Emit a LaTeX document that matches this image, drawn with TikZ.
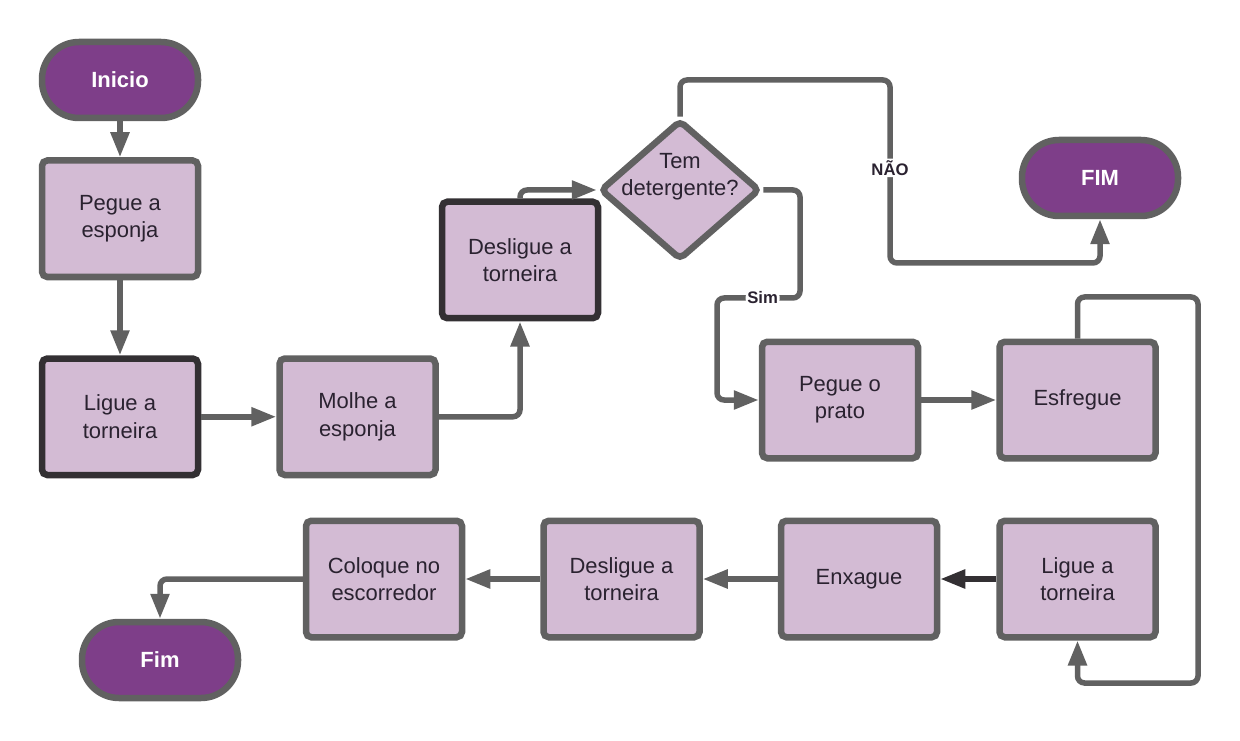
\documentclass[tikz,border=0pt]{standalone}
\usepackage{fontspec}
\setmainfont{Liberation Sans}
\usetikzlibrary{arrows.meta,positioning,shapes.geometric}
\definecolor{flTerm}{HTML}{7E3E89}
\definecolor{flBox}{HTML}{D3BBD4}
\definecolor{flEdge}{HTML}{616161}
\definecolor{flDark}{HTML}{333033}
\definecolor{flInk}{HTML}{2A2230}
\tikzset{
  flterm/.style={rectangle,rounded corners=0.74cm,draw=flEdge,line width=0.13cm,fill=flTerm,text=white,font=\bfseries\fontsize{12.5}{15}\selectfont,minimum width=3.12cm,minimum height=1.52cm,inner sep=0pt},
  flproc/.style={rectangle,rounded corners=3pt,draw=flEdge,line width=0.13cm,fill=flBox,text=flInk,font=\fontsize{12.5}{15.5}\selectfont,align=center,minimum width=3.12cm,minimum height=2.33cm,inner sep=2pt},
  flprocdark/.style={flproc,draw=flDark},
  fldecide/.style={diamond,rounded corners=3pt,draw=flEdge,line width=0.13cm,fill=flBox,text=flInk,font=\fontsize{12.5}{15.5}\selectfont,minimum width=3.2cm,minimum height=2.8cm,inner sep=0pt},
  fllink/.style={-{Triangle[length=0.5cm,width=0.36cm]},draw=flEdge,line width=0.11cm,rounded corners=4pt},
  fldarklink/.style={fllink,draw=flDark},
  fllabel/.style={font=\bfseries\fontsize{9.5}{11}\selectfont,text=flInk,fill=white,inner sep=1pt}
}

\begin{document}
\begin{tikzpicture}

\fill[white] (0,0) rectangle (24.8,14.8);
\useasboundingbox (0,0) rectangle (24.8,14.8);

% ---- INICIO E PREPARO ----
\node[flterm] (inicio) at (2.4,13.2) {Inicio};
\node[flproc, below=0.72cm of inicio] (esponja) {Pegue a\\ esponja};
\node[flprocdark, below=1.5cm of esponja] (liga1) {Ligue a\\ torneira};
\node[flproc, right=1.5cm of liga1] (molhe) {Molhe a\\ esponja};
\node[flprocdark] (desliga1) at (10.4,9.6) {Desligue a\\ torneira};
\draw[fllink] (inicio) -- (esponja);
\draw[fllink] (esponja) -- (liga1);
\draw[fllink] (liga1) -- (molhe);
\draw[fllink] (molhe.east) -| (desliga1.south);

% ---- DECISAO ----
\node[fldecide] (deterg) at (13.6,11.0) {\raisebox{0.16cm}[0pt][0pt]{\makebox[0pt]{\begin{tabular}{@{}c@{}}Tem\\ detergente?\end{tabular}}}};
\node[flterm] (fimA) at (22.0,11.24) {FIM};
\draw[fllink] (desliga1.north) |- (deterg.west);

\coordinate (naoA) at (17.8,13.2);
\coordinate (naoB) at (17.8,9.54);
\draw[fllink] (deterg.north) |- (naoA) -- node[fllabel,pos=0.48]{NÃO} (naoB) -| (fimA.south);

% ---- LAVAGEM ----
\node[flproc] (prato) at (16.8,6.8) {Pegue o\\ prato};
\node[flproc, right=1.5cm of prato] (esfregue) {Esfregue};
\node[flproc, below=1.12cm of esfregue] (liga2) {Ligue a\\ torneira};
\node[flproc, left=1.12cm of liga2] (enxague) {Enxague};
\node[flproc, left=1.5cm of enxague] (desliga2) {Desligue a\\ torneira};
\node[flproc, left=1.5cm of desliga2] (coloque) {Coloque no\\ escorredor};
\node[flterm] (fimB) at (3.2,1.6) {Fim};

\coordinate (simA) at (16.0,8.84);
\coordinate (simB) at (14.34,8.84);
\draw[fllink] (deterg.east) -| (simA) -- node[fllabel,pos=0.45]{Sim} (simB) |- (prato.west);
\draw[fllink] (prato) -- (esfregue);

\coordinate (voltaA) at (23.96,8.86);
\coordinate (voltaB) at (23.96,1.14);
\draw[fllink] (esfregue.north) |- (voltaA) -- (voltaB) -| (liga2.south);

\draw[fldarklink] (liga2) -- (enxague);
\draw[fllink] (enxague) -- (desliga2);
\draw[fllink] (desliga2) -- (coloque);
\draw[fllink] (coloque.west) -| (fimB.north);

\end{tikzpicture}
\end{document}
